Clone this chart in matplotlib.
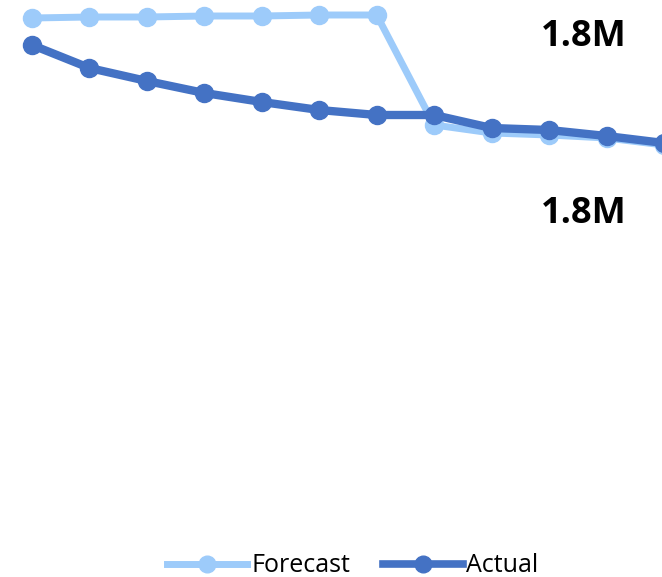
import matplotlib
matplotlib.use("Agg")
import matplotlib.pyplot as plt
from matplotlib.lines import Line2D

periods = list(range(12))
forecast = [1.8546, 1.8549, 1.8549, 1.8552, 1.8552, 1.8555, 1.8555, 1.8225, 1.8201, 1.8195, 1.8186, 1.8165]
actual = [1.8465, 1.8396, 1.8357, 1.8321, 1.8294, 1.8270, 1.8255, 1.8255, 1.8216, 1.8210, 1.8192, 1.8171]
series_names = ["Forecast", "Actual"]
labels = ["1.8M", "1.8M"]

c_fc = "#9DCBFA"
c_ac = "#4472C4"

fig = plt.figure(figsize=(6.62, 5.77), dpi=100)
ax = fig.add_axes([0, 0, 1, 1])
ax.plot(periods, forecast, color=c_fc, lw=5, marker="o", ms=13, solid_capstyle="round")
ax.plot(periods, actual, color=c_ac, lw=6, marker="o", ms=13, solid_capstyle="round")

step = 57.45
ax.set_xlim(-32 / step, (662 - 32) / step)
ymax, k = 1.86, 0.0003
ax.set_ylim(ymax - 577 * k, ymax)
ax.axis("off")

ax.text((584 - 32) / step, ymax - 37 * k, labels[0], fontsize=26, fontweight="bold",
        family="Open Sans", ha="center", va="center")
ax.text((584 - 32) / step, ymax - 214 * k, labels[1], fontsize=26, fontweight="bold",
        family="Open Sans", ha="center", va="center")

handles = [Line2D([], [], color=c_fc, lw=5, marker="o", ms=12),
           Line2D([], [], color=c_ac, lw=5.5, marker="o", ms=12)]
fig.legend(handles, series_names, loc="center", bbox_to_anchor=(353 / 662, 1 - 566 / 577), ncol=2,
           frameon=False, handlelength=3.2, handletextpad=0.15, columnspacing=1.3,
           borderpad=0, prop={"family": "Open Sans", "size": 18})

fig.savefig("out.png", dpi=100)
